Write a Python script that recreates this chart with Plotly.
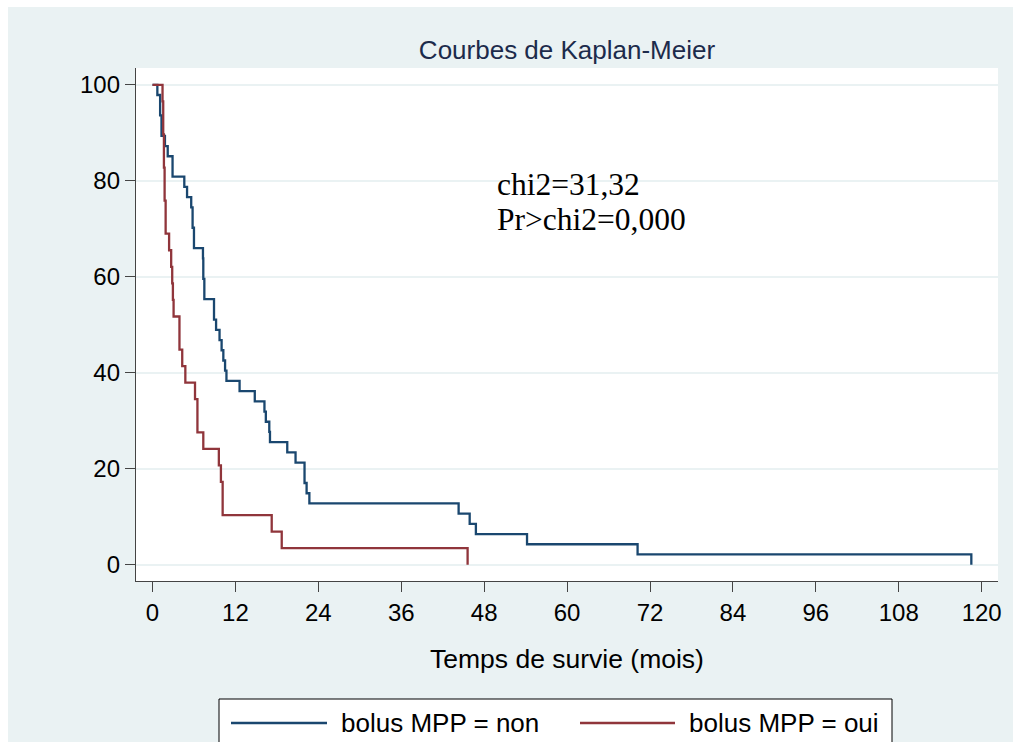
import plotly.graph_objects as go

# ---- data ----
time_non = [0, 0.7, 1.1, 1.3, 1.8, 2.2, 2.9, 4.6, 5.0, 5.6, 5.8, 6.0, 7.3, 7.35, 7.5,
            8.9, 9.2, 9.7, 10.0, 10.25, 10.5, 10.7, 12.6, 14.8, 16.2, 16.4, 16.9, 17.0,
            19.5, 20.7, 22.0, 22.3, 22.7, 44.3, 45.9, 46.8, 54.2, 70.2, 118.5]
surv_non = [100, 97.87, 93.62, 89.36, 87.23, 85.11, 80.85, 78.72, 76.60, 74.47, 70.21,
            65.96, 63.83, 59.57, 55.32, 51.06, 48.94, 46.81, 44.68, 42.55, 40.43, 38.30,
            36.17, 34.04, 31.91, 29.79, 27.66, 25.53, 23.40, 21.28, 17.02, 14.89, 12.77,
            10.64, 8.51, 6.38, 4.26, 2.13, 0]

time_oui = [0, 1.45, 1.55, 1.65, 1.75, 1.9, 2.4, 2.7, 2.85, 2.95, 3.05, 3.9, 4.3, 4.75,
            6.15, 6.5, 7.35, 9.6, 9.9, 10.15, 17.25, 18.7, 45.6]
surv_oui = [100, 96.55, 89.66, 82.76, 75.86, 68.97, 65.52, 62.07, 58.62, 55.17, 51.72,
            44.83, 41.38, 37.93, 34.48, 27.59, 24.14, 20.69, 17.24, 10.34, 6.90, 3.45, 0]

x_ticks = [0, 12, 24, 36, 48, 60, 72, 84, 96, 108, 120]
y_ticks = [0, 20, 40, 60, 80, 100]
series_names = ["bolus MPP = non", "bolus MPP = oui"]
stat_lines = ["chi2=31,32", "Pr>chi2=0,000"]

BLUE = "#1a476f"
RED = "#90353b"
BG = "#eaf2f3"
SANS = "Liberation Sans, Arial, sans-serif"
SERIF = "Liberation Serif, Times New Roman, serif"

fig = go.Figure()
fig.add_trace(go.Scatter(x=time_non, y=surv_non, mode="lines", line_shape="hv",
                         line=dict(color=BLUE, width=2.3), name=series_names[0],
                         showlegend=False))
fig.add_trace(go.Scatter(x=time_oui, y=surv_oui, mode="lines", line_shape="hv",
                         line=dict(color=RED, width=2.3), name=series_names[1],
                         showlegend=False))

# page has no body margin (set in post_script); plot area (page px): x 136..998, y 68..581
OFF = 0
FW, FH = 1013, 742
L, R, T, B = 136, 998, 68, 581
W, H = R - L, B - T
def px(x):
    return (x - L) / W
def py(y):
    return (B - y) / H

shapes = [
    # white outer strips (left and top) of the original image
    dict(type="rect", xref="paper", yref="paper", x0=px(-5), x1=px(8), y0=py(760), y1=py(-5),
         fillcolor="white", line=dict(width=0), layer="below"),
    dict(type="rect", xref="paper", yref="paper", x0=px(-5), x1=px(1020), y0=py(7), y1=py(-5),
         fillcolor="white", line=dict(width=0), layer="below"),
    # legend box
    dict(type="rect", xref="paper", yref="paper", x0=px(219), x1=px(892), y0=py(770), y1=py(699),
         fillcolor="white", line=dict(color="black", width=1)),
    dict(type="line", xref="paper", yref="paper", x0=px(231), x1=px(327), y0=py(723), y1=py(723),
         line=dict(color=BLUE, width=2.3)),
    dict(type="line", xref="paper", yref="paper", x0=px(580), x1=px(675), y0=py(723), y1=py(723),
         line=dict(color=RED, width=2.3)),
]

annotations = [
    dict(text=series_names[0], xref="paper", yref="paper", x=px(339), y=py(723),
         xanchor="left", yanchor="middle", showarrow=False,
         font=dict(family=SANS, size=26, color="black")),
    dict(text=series_names[1], xref="paper", yref="paper", x=px(687), y=py(723),
         xanchor="left", yanchor="middle", showarrow=False,
         font=dict(family=SANS, size=26, color="black")),
    dict(text=stat_lines[0], xref="paper", yref="paper", x=px(495), y=py(184),
         xanchor="left", yanchor="middle", showarrow=False,
         font=dict(family=SERIF, size=31.5, color="black")),
    dict(text=stat_lines[1], xref="paper", yref="paper", x=px(495), y=py(219),
         xanchor="left", yanchor="middle", showarrow=False,
         font=dict(family=SERIF, size=31.5, color="black")),
]

fig.update_layout(
    width=FW, height=FH,
    margin=dict(l=L - OFF, r=FW - (R - OFF), t=T - OFF, b=FH - (B - OFF)),
    paper_bgcolor=BG, plot_bgcolor="white",
    title=dict(text="Courbes de Kaplan-Meier", x=0.5, xref="paper", xanchor="center",
               y=1 - (50 - OFF) / FH, yanchor="middle",
               font=dict(family=SANS, size=26, color="#1c2b4b")),
    shapes=shapes, annotations=annotations,
    showlegend=False,
    font=dict(family=SANS, size=24, color="black"),
)
fig.update_xaxes(range=[-2.39, 122.36], tickvals=x_ticks, ticks="outside", ticklen=10,
                 tickwidth=1.3, tickcolor="#444", showline=True, linecolor="#444",
                 linewidth=1.3, showgrid=False, zeroline=False,
                 tickfont=dict(family=SANS, size=24, color="black"),
                 title=dict(text="Temps de survie (mois)", standoff=24,
                            font=dict(family=SANS, size=26.5, color="black")))
fig.update_yaxes(range=[-3.4, 103.5], tickvals=y_ticks, ticks="outside", ticklen=10,
                 tickwidth=1.3, tickcolor="#444", showline=True, linecolor="#444",
                 linewidth=1.3, showgrid=True, gridcolor=BG, gridwidth=1.5,
                 zeroline=False, tickfont=dict(family=SANS, size=24, color="black"))

fig.write_html(
    "out.html",
    config={"displayModeBar": False},
    post_script="document.body.style.margin='0';"
                "document.documentElement.style.overflow='hidden';"
                "document.body.style.overflow='hidden';",
)
